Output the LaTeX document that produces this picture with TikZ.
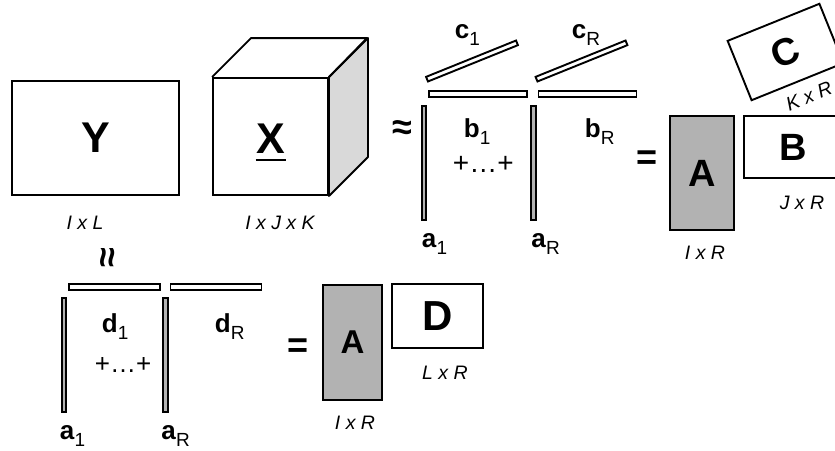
\documentclass[tikz,border=0pt]{standalone}
\usepackage{fontspec}
\setmainfont{Liberation Sans}
\newcommand\vecsub[2]{\textbf{#1}\raisebox{-7pt}{\fontsize{19}{19}\selectfont #2}}
\begin{document}
\begin{tikzpicture}[x=1pt,y=-1pt,line width=1.9pt,
 wbox/.style={draw,fill=white,inner sep=0pt},
 gbox/.style={draw,fill=black!30,inner sep=0pt},
 mat/.style={font=\bfseries\fontsize{#1}{#1}\selectfont},
 dims/.style={font=\itshape\fontsize{19.5}{19.5}\selectfont},
 vlab/.style={anchor=base west,inner sep=0pt,font=\fontsize{26}{26}\selectfont},
 sym/.style={font=\bfseries\fontsize{36}{36}\selectfont,inner sep=0pt}]
 \clip (0,0) rectangle (835,450);
 % matrix Y and tensor X
 \node[wbox,mat=43,minimum width=167pt,minimum height=114pt] (Y) at (95.5,138) {Y};
 \node[dims] (Ydim) at (85,223) {I x L};
 \node[wbox,minimum width=115pt,minimum height=117pt] (Xfront) at (270.5,136.5) {};
 \filldraw[fill=black!15,line join=round] (Xfront.north east) -- ++(39,-39) -- ++(0,119) -- (Xfront.south east) -- cycle;
 \draw[line join=round] (Xfront.north west) -- ++(39,-39) -- ++(116,0) -- (Xfront.north east);
 \node[mat=43,inner sep=0pt] (X) at (271,138.5) {X};
 \draw[line width=2.2pt] ([yshift=-7pt]X.base west) -- ([yshift=-7pt]X.base east);
 \node[dims] (Xdim) at (280,223) {I x J x K};
 \node[sym] (approx) at (402,130) {≈};
 % rank-one terms: a, b, c
 \foreach \s/\dx/\bl/\cl in {1/0/463/454, R/109.5/584/571} {
  \node[gbox,minimum width=4.8pt,minimum height=114pt] (a\s) at (424+\dx,163) {};
  \node[wbox,minimum width=98pt,minimum height=6pt] (b\s) at (478+\dx,94) {};
  \node[wbox,rotate=22,minimum width=97pt,minimum height=5pt] (c\s) at (472+\dx,61) {};
  \node[vlab] (a\s lab) at (421+\dx,247) {\vecsub{a}{\s}};
  \node[vlab] (b\s lab) at (\bl,137) {\vecsub{b}{\s}};
  \node[vlab] (c\s lab) at (\cl,38) {\vecsub{c}{\s}};
 }
 \node[anchor=base west,inner sep=0pt,font=\fontsize{28}{28}\selectfont] (dots) at (452,172) {+…+};
 \node[sym] (eq1) at (647,160) {=};
 \node[gbox,mat=38,minimum width=64pt,minimum height=114pt] (A) at (702,173) {A};
 \node[dims] (Adim) at (705,253) {I x R};
 \node[wbox,mat=38,minimum width=99pt,minimum height=62pt] (B) at (793.5,147) {B};
 \node[dims] (Bdim) at (802,203) {J x R};
 \node[wbox,mat=38,rotate=22,minimum width=99pt,minimum height=64pt] (C) at (785.5,52) {C};
 \node[dims,rotate=22] (Cdim) at (809,96) {K x R};
 % coupled matrix: a and d
 \node[sym,rotate=90] (approx2) at (110,258) {≈};
 \foreach \s/\dx/\dl in {1/0/101, R/101.5/214} {
  \node[gbox,minimum width=4.8pt,minimum height=114pt] (da\s) at (64+\dx,355) {};
  \node[wbox,minimum width=91pt,minimum height=6pt] (d\s) at (114.5+\dx,287) {};
  \node[vlab] (da\s lab) at (59+\dx,439) {\vecsub{a}{\s}};
  \node[vlab] (d\s lab) at (\dl,332) {\vecsub{d}{\s}};
 }
 \node[anchor=base west,inner sep=0pt,font=\fontsize{26}{26}\selectfont] (dots2) at (94,372) {+…+};
 \node[sym] (eq2) at (298,348) {=};
 \node[gbox,mat=33,minimum width=59pt,minimum height=115pt] (A2) at (352.5,342.5) {A};
 \node[dims] (A2dim) at (355,423) {I x R};
 \node[wbox,mat=42,minimum width=91pt,minimum height=64pt] (D) at (437.5,316) {D};
 \node[dims] (Ddim) at (445,373) {L x R};
\end{tikzpicture}
\end{document}
